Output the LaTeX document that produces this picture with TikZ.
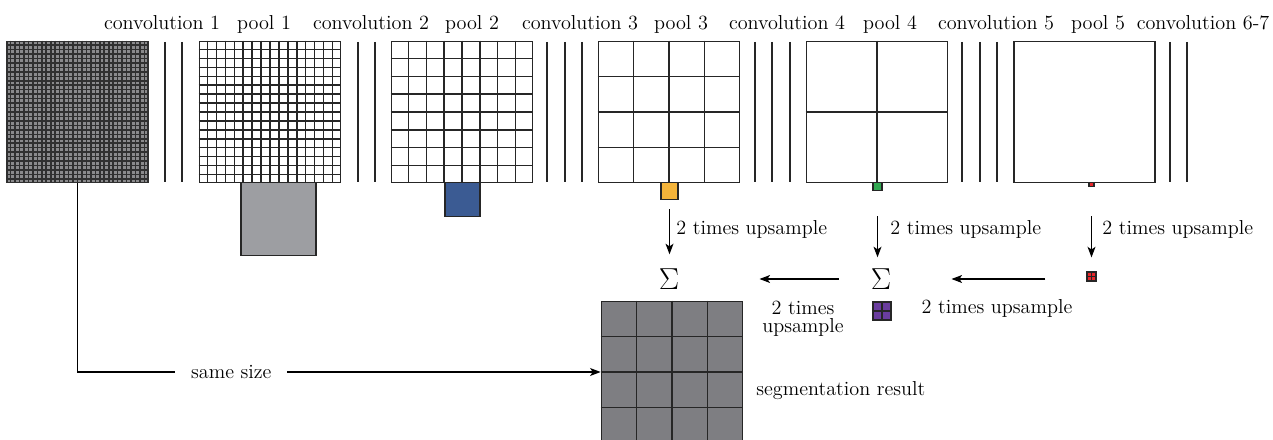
\documentclass[tikz,border=0pt]{standalone}
\usepackage{xcolor}
\usepackage{tikz}
\usetikzlibrary{arrows.meta, positioning, calc}
\definecolor{InGray}{HTML}{8A8A8C}
\definecolor{InLine}{HTML}{303030}
\definecolor{PoolGray}{HTML}{9D9EA2}
\definecolor{PoolBlue}{HTML}{3B5B93}
\definecolor{PoolOrange}{HTML}{F4B43A}
\definecolor{PoolGreen}{HTML}{31A852}
\definecolor{PoolRed}{HTML}{E8262A}
\definecolor{SumPurple}{HTML}{6A3D9E}
\definecolor{ResGray}{HTML}{7E7E82}

\begin{document}
\begin{tikzpicture}[
    x=0.02cm, y=-0.02cm,
    every node/.style={font=\fontsize{11.5}{10}\selectfont},
    fmap/.style={
      draw=black!85, line width=1pt, fill=white,
      minimum size=2.82cm, inner sep=0pt
    },
    poolbox/.style={draw=black!85, line width=0.7pt, inner sep=0pt, anchor=north},
    convline/.style={line width=1pt, black!85},
    cellline/.style={line width=0.85pt, black!85},
    inline/.style={line width=0.9pt, InLine},
    upArrow/.style={-{Stealth[length=6pt, width=4.5pt, inset=1.5pt]}, line width=0.75pt},
    lbl/.style={inner sep=0pt},
    sumsign/.style={font=\LARGE, inner sep=0pt}
  ]
    \useasboundingbox (0,0) rectangle (1273,439);
    \clip (0,0) rectangle (1273,439);

    % feature maps
    \node[fmap, fill=InGray, draw=InLine] (in) at (77.5,112) {};
    \node[fmap] (p1) at (270,112) {};
    \node[fmap] (p2) at (462,112) {};
    \node[fmap] (p3) at (669,112) {};
    \node[fmap] (p4) at (877,112) {};
    \node[fmap] (p5) at (1084.5,112) {};
    \node[fmap, fill=ResGray] (res) at (672,372) {};

    \foreach \m/\n/\s in {in/32/inline, p1/16/cellline, p2/8/cellline, p3/4/cellline, p4/2/cellline, res/4/cellline}{
      \pgfmathtruncatemacro{\nlast}{\n-1}
      \foreach \i in {1,...,\nlast}{
        \draw[\s] ($(\m.north west)!\i/\n!(\m.north east)$) -- ($(\m.south west)!\i/\n!(\m.south east)$)
                  ($(\m.north west)!\i/\n!(\m.south west)$) -- ($(\m.north east)!\i/\n!(\m.south east)$);
      }
    }

    % convolution layers
    \foreach \x in {165,182,358,375,547,565,582,755,772,790,962,980,997,1170,1187}
      \draw[convline] (\x,42) -- (\x,182);

    \foreach \x/\t/\nm in {162/convolution 1/c1, 264/pool 1/l1, 371/convolution 2/c2, 472/pool 2/l2,
                           580/convolution 3/c3, 681/pool 3/l3, 787/convolution 4/c4, 890/pool 4/l4,
                           996/convolution 5/c5, 1098/pool 5/l5, 1203/convolution 6-7/c67}
      \node[lbl, anchor=base] (\nm) at (\x,30) {\t};

    % pooled outputs
    \node[poolbox, fill=PoolGray, minimum width=1.5cm, minimum height=1.46cm] (g1) at (278.5,182) {};
    \node[poolbox, fill=PoolBlue, minimum width=0.7cm, minimum height=0.68cm] (g2) at (462.5,182) {};
    \node[poolbox, fill=PoolOrange, minimum width=0.34cm, minimum height=0.34cm] (g3) at (669.5,182) {};
    \node[poolbox, fill=PoolGreen, minimum width=0.18cm, minimum height=0.16cm] (g4) at (877.5,182) {};
    \node[poolbox, fill=PoolRed, minimum width=0.1cm, minimum height=0.08cm] (g5) at (1091.5,182) {};

    % upsampling and fusion
    \node[sumsign] (s3) at (669,279) {$\Sigma$};
    \node[sumsign] (s4) at (881,279) {$\Sigma$};
    \node[poolbox, anchor=center, fill=PoolRed, minimum size=0.18cm] (q5) at (1091.5,276.5) {};
    \node[poolbox, anchor=center, fill=SumPurple, minimum size=0.36cm] (q4) at (882,311) {};
    \draw[cellline] (q5.north) -- (q5.south) (q5.west) -- (q5.east);
    \draw[cellline] (q4.north) -- (q4.south) (q4.west) -- (q4.east);

    \draw[upArrow, shorten <=0.18cm, shorten >=0.28cm] (g3.south) -- (g3.south |- s3.north);
    \draw[upArrow, shorten <=0.5cm, shorten >=0.22cm] (g4.south) -- (g4.south |- s4.north);
    \draw[upArrow, shorten <=0.58cm, shorten >=0.28cm] (g5.south) -- (g5.south |- q5.north);
    \draw[upArrow, shorten <=0.82cm, shorten >=1.2cm] (q5.west |- s4.east) -- (s4.east);
    \draw[upArrow, shorten <=0.64cm, shorten >=1.6cm] (s4.west) -- (s3.east);

    \node[lbl, anchor=base west] (u3) at (676,234) {2 times upsample};
    \node[lbl, anchor=base west] (u4) at (890,234) {2 times upsample};
    \node[lbl, anchor=base west] (u5) at (1102,234) {2 times upsample};
    \node[lbl, anchor=base] (u45) at (997,313) {2 times upsample};
    \node[lbl, anchor=north, align=center] (u34) at (803,301) {2 times\\upsample};

    % skip connection
    \draw[upArrow] (in.south) |- node[pos=0.647, fill=white, inner xsep=9pt, inner ysep=1pt] (same) {same size} (res.west);
    \node[lbl, anchor=base west] (seg) at (756,395) {segmentation result};
  \end{tikzpicture}
\end{document}
